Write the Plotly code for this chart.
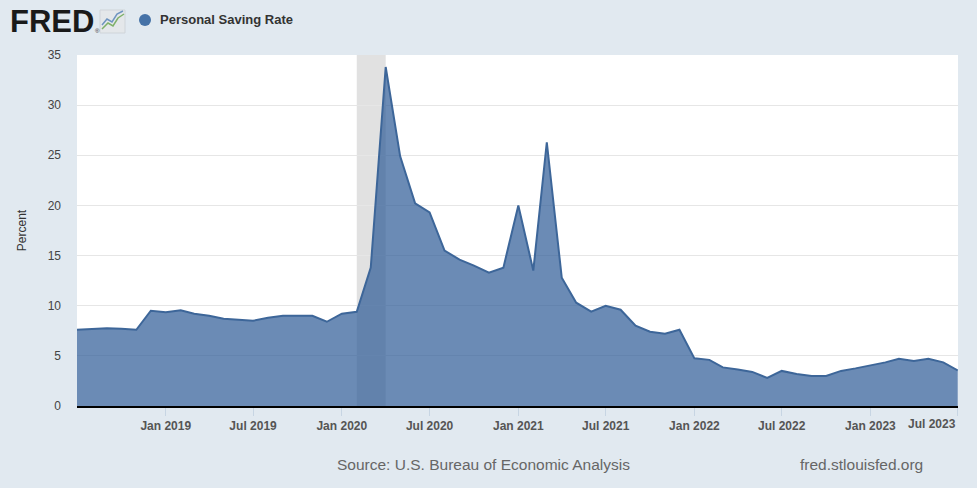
import pandas as pd
import plotly.graph_objects as go

# monthly personal saving rate, Jul 2018 - Jul 2023
months = pd.date_range("2018-07-01", "2023-07-01", freq="MS")
saving_rate = [
    7.6, 7.7, 7.75, 7.7, 7.6, 9.5,            # 2018 Jul-Dec
    9.35, 9.55, 9.2, 9.0, 8.7, 8.6,           # 2019 Jan-Jun
    8.5, 8.8, 9.0, 9.0, 9.0, 8.4,             # 2019 Jul-Dec
    9.2, 9.4, 13.8, 33.8, 24.9, 20.2,         # 2020 Jan-Jun
    19.3, 15.5, 14.6, 14.0, 13.3, 13.8,       # 2020 Jul-Dec
    20.0, 13.5, 26.3, 12.8, 10.3, 9.4,        # 2021 Jan-Jun
    10.0, 9.6, 8.0, 7.4, 7.2, 7.6,            # 2021 Jul-Dec
    4.75, 4.6, 3.85, 3.65, 3.4, 2.8,          # 2022 Jan-Jun
    3.5, 3.2, 3.0, 3.0, 3.5, 3.75,            # 2022 Jul-Dec
    4.05, 4.35, 4.7, 4.5, 4.7, 4.35, 3.55,    # 2023 Jan-Jul
]

recession_start = "2020-02-01"
recession_end = "2020-04-01"

tick_dates = ["2019-01-01", "2019-07-01", "2020-01-01", "2020-07-01",
              "2021-01-01", "2021-07-01", "2022-01-01", "2022-07-01",
              "2023-01-01", "2023-07-01"]
tick_labels = ["Jan 2019", "Jul 2019", "Jan 2020", "Jul 2020", "Jan 2021",
               "Jul 2021", "Jan 2022", "Jul 2022", "Jan 2023", "Jul 2023"]

W, H = 977, 488
L, R, T, B = 77, 19, 55, 82
BG = "#e1e9f0"
LINE = "#3d6699"
TICKFONT = dict(family="Liberation Sans", size=12, color="#555", weight="bold")


# pixel -> paper helpers for the header decoration
def px(x):
    return (x - L) / (W - L - R)


def py(y):
    return (H - B - y) / (H - T - B)


fig = go.Figure()

fig.add_trace(go.Scatter(
    x=months,
    y=saving_rate,
    mode="lines",
    line=dict(color=LINE, width=2),
    fill="tozeroy",
    fillcolor="rgba(44,90,150,0.7)",
    name="Personal Saving Rate",
    showlegend=False,
    hovertemplate="%{x|%b %Y}: %{y:.1f}<extra></extra>",
))

shapes = [
    # recession bar
    dict(type="rect", xref="x", yref="paper", x0=recession_start, x1=recession_end,
         y0=0, y1=1, fillcolor="#e1e1e1", line_width=0, layer="below"),
    # little chart icon next to the logo
    dict(type="rect", xref="paper", yref="paper", x0=px(100), x1=px(125),
         y0=py(33), y1=py(10), fillcolor="#e4e7ea", line=dict(color="#cfd4d9", width=1)),
    dict(type="path", xref="paper", yref="paper",
         path=f"M {px(102)},{py(29)} L {px(108)},{py(23)} L {px(113)},{py(26)} "
              f"L {px(118)},{py(18)} L {px(124)},{py(14)}",
         line=dict(color="#7fb069", width=1.5)),
    dict(type="path", xref="paper", yref="paper",
         path=f"M {px(102)},{py(25)} L {px(107)},{py(19)} L {px(112)},{py(22)} "
              f"L {px(117)},{py(14)} L {px(123)},{py(11)}",
         line=dict(color="#6f94c0", width=1.5)),
    # legend dot
    dict(type="circle", xref="paper", yref="paper", x0=px(139), x1=px(151),
         y0=py(26), y1=py(14), fillcolor="#4572a7", line_width=0),
]

annotations = [
    dict(text="<b>FRED</b>", xref="paper", yref="paper", x=px(8), y=py(22),
         xanchor="left", yanchor="middle", showarrow=False,
         font=dict(family="Liberation Sans", size=31, color="#1a1a1a")),
    dict(text="®", xref="paper", yref="paper", x=px(93), y=py(31),
         xanchor="left", yanchor="middle", showarrow=False,
         font=dict(family="Liberation Sans", size=6, color="#333")),
    dict(text="<b>Personal Saving Rate</b>", xref="paper", yref="paper",
         x=px(158), y=py(20), xanchor="left", yanchor="middle", showarrow=False,
         font=dict(family="Liberation Sans", size=13, color="#333")),
    dict(text="Source: U.S. Bureau of Economic Analysis", xref="paper", yref="paper",
         x=px(483), y=py(464), xanchor="center", yanchor="middle", showarrow=False,
         font=dict(family="Liberation Sans", size=15.5, color="#666")),
    dict(text="fred.stlouisfed.org", xref="paper", yref="paper",
         x=px(861), y=py(464), xanchor="center", yanchor="middle", showarrow=False,
         font=dict(family="Liberation Sans", size=15.5, color="#666")),
    # last tick label is kept inside the chart, right-aligned to its tick
    dict(text=tick_labels[-1], xref="x", yref="paper", x=tick_dates[-1], y=py(424),
         xanchor="right", yanchor="middle", showarrow=False, font=TICKFONT),
]

fig.update_layout(
    width=W, height=H,
    margin=dict(l=L, r=R, t=T, b=B),
    paper_bgcolor=BG,
    plot_bgcolor="white",
    shapes=shapes,
    annotations=annotations,
    hovermode="x",
    font=dict(family="Liberation Sans"),
)

fig.update_xaxes(
    range=["2018-07-01", "2023-07-01 12:00"],
    tickvals=tick_dates,
    ticktext=tick_labels[:-1] + [""],
    ticks="outside",
    ticklen=8,
    tickcolor="#c7d5e3",
    tickfont=TICKFONT,
    showgrid=False,
    showline=True,
    linecolor="black",
    linewidth=2,
    zeroline=False,
)

fig.update_yaxes(
    range=[0, 35],
    dtick=5,
    gridcolor="#e6e6e6",
    gridwidth=1,
    zeroline=False,
    tickfont=dict(size=12, color="#444"),
    ticklabelstandoff=15,
    title=dict(text="Percent", font=dict(size=12, color="#333"), standoff=18),
)

# drop the default page margin so the chart sits at the window's corner
fig.write_html("out.html", config={"displayModeBar": False},
               post_script="document.body.style.margin='0';")
